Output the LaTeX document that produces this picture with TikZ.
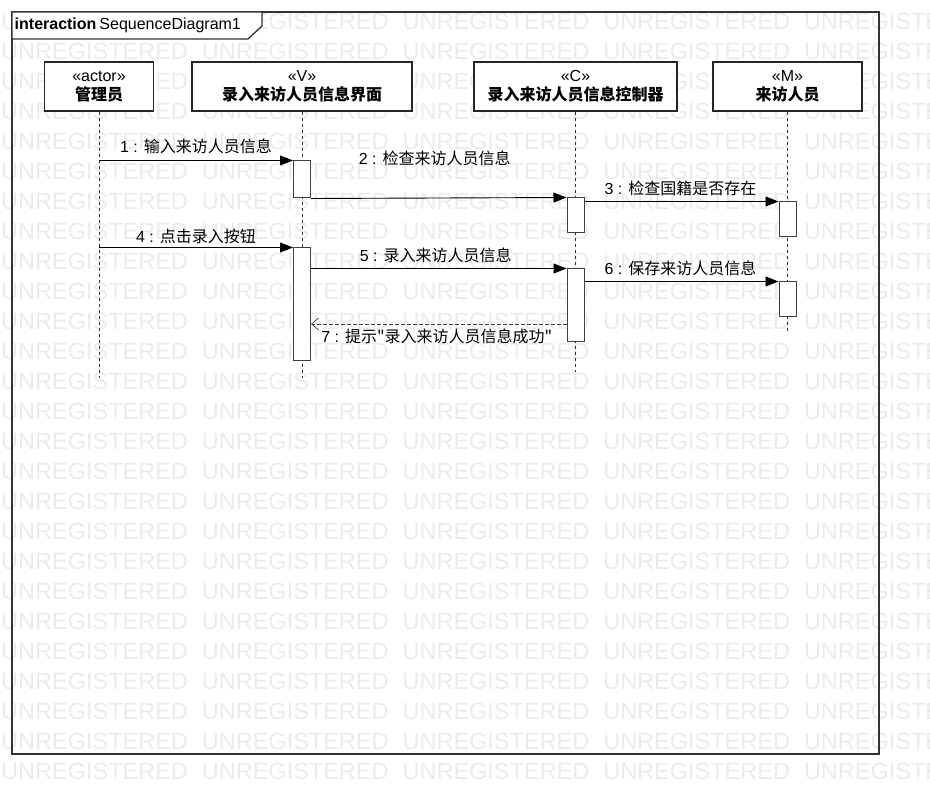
\documentclass[tikz,border=0pt]{standalone}
\usepackage{fontspec}
\setmainfont{Liberation Sans}
\newfontfamily\cjk{Noto Sans CJK SC}
\usetikzlibrary{arrows.meta,calc}
\begin{document}
\begin{tikzpicture}[x=1pt,y=-1pt,
  wm/.style={anchor=west,text=black!8,font=\fontsize{23.5}{26}\selectfont,inner sep=0pt},
  frameline/.style={draw=black!80,line width=1.3pt},
  head/.style={draw=black!85,line width=1.2pt,fill=white,minimum height=49pt,inner sep=0pt,align=center,font=\fontsize{16}{18.5}\selectfont},
  act/.style={draw=black!75,line width=1pt,fill=white,minimum width=17pt,inner sep=0pt},
  life/.style={draw=black!80,line width=0.9pt,dash pattern=on 3pt off 3pt},
  msg/.style={draw=black,line width=0.9pt,-{Triangle[length=13pt,width=10pt]}},
  ret/.style={draw=black!75,line width=0.9pt,dash pattern=on 4pt off 2pt,-{Straight Barb[length=7pt,width=12pt,line width=0.7pt]}},
  lbl/.style={inner sep=0pt,font=\fontsize{16}{19}\selectfont},
]
\useasboundingbox (0,0) rectangle (930,805);
% watermark
\begin{scope}
\clip (0,0) rectangle (930,805);
\foreach \r in {0,...,25}{\foreach \c in {0,...,4}{
  \node[wm] (wm-\r-\c) at (1+200.7*\c, 21+30*\r) {UNREGISTERED};}}
\end{scope}
% frame
\draw[frameline] (12,12) rectangle (879,754);
\draw[frameline,fill=white] (12,12) -- (262,12) -- (262,26) -- (248,39) -- (12,39) -- cycle;
\node[inner sep=0pt,anchor=base west,font=\fontsize{16}{19}\selectfont] (title) at (14.5,30) {\textbf{interaction}\hspace{3pt}SequenceDiagram1};
% lifeline heads
\node[head,minimum width=109pt] (A) at (99,86.5) {«actor»\\{\cjk\bfseries 管理员}};
\node[head,minimum width=220pt] (V) at (302,86.5) {«V»\\{\cjk\bfseries 录入来访人员信息界面}};
\node[head,minimum width=203pt] (C) at (575.5,86.5) {«C»\\{\cjk\bfseries 录入来访人员信息控制器}};
\node[head,minimum width=149pt] (M) at (787.5,86.5) {«M»\\{\cjk\bfseries 来访人员}};
% lifelines
\coordinate (Ae) at (99,378);
\coordinate (Ve) at (302,378);
\coordinate (Ce) at (575.5,372);
\coordinate (Me) at (787.5,333);
\draw[life] (A.south) -- (Ae);
\draw[life] (V.south) -- (Ve);
\draw[life] (C.south) -- (Ce);
\draw[life] (M.south) -- (Me);
% activations
\node[act,minimum height=37pt] (va1) at (302,179.5) {};
\node[act,minimum height=113pt] (va2) at (302,304.5) {};
\node[act,minimum height=35pt] (ca1) at (575.5,215.5) {};
\node[act,minimum height=73pt] (ca2) at (575.5,305.5) {};
\node[act,minimum height=35pt] (ma1) at (787.5,219.5) {};
\node[act,minimum height=35pt] (ma2) at (787.5,299.5) {};
% messages
\draw[msg] (va1.north west -| A.south) -- (va1.north west);
\node[lbl] (l1) at ($(va1.north west -| A.south)!0.5!(va1.north west)+(0,-14)$) {1 : \cjk 输入来访人员信息};
\draw[msg] (va1.south east) -- (ca1.north west);
\node[lbl] (l2) at ($(va1.south east)!0.5!(ca1.north west)+(-4,-40)$) {2 : \cjk 检查来访人员信息};
\draw[msg] (ma1.north west -| ca1.east) -- (ma1.north west);
\node[lbl] (l3) at ($(ma1.north west -| ca1.east)!0.5!(ma1.north west)+(-1,-13)$) {3 : \cjk 检查国籍是否存在};
\draw[msg] (va2.north west -| A.south) -- (va2.north west);
\node[lbl] (l4) at ($(va2.north west -| A.south)!0.5!(va2.north west)+(0,-11)$) {4 : \cjk 点击录入按钮};
\draw[msg] (ca2.north west -| va2.east) -- (ca2.north west);
\node[lbl] (l5) at ($(ca2.north west -| va2.east)!0.5!(ca2.north west)+(-3,-13)$) {5 : \cjk 录入来访人员信息};
\draw[msg] (ma2.north west -| ca2.east) -- (ma2.north west);
\node[lbl] (l6) at ($(ma2.north west -| ca2.east)!0.5!(ma2.north west)+(-1,-13)$) {6 : \cjk 保存来访人员信息};
\coordinate (r7) at (440,324);
\draw[ret] (ca2.west |- r7) -- (va2.east |- r7);
\node[lbl] (l7) at ($(ca2.west |- r7)!0.5!(va2.east |- r7)+(-2,12)$) {7 : \cjk 提示"录入来访人员信息成功"};
\end{tikzpicture}
\end{document}
